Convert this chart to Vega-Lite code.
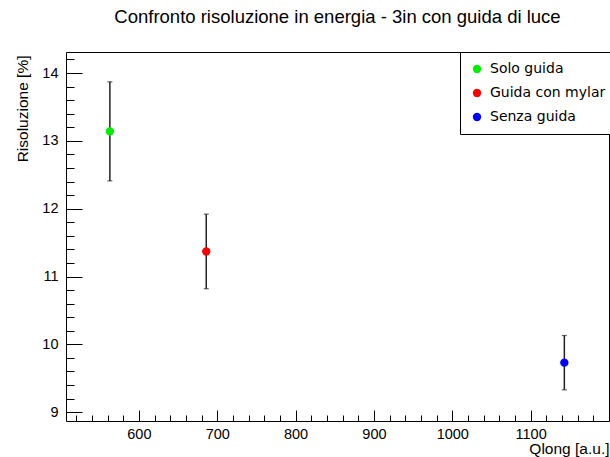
{
  "$schema": "https://vega.github.io/schema/vega-lite/v6.json",
  "width": 543,
  "height": 369,
  "autosize": {"type": "none"},
  "padding": {"left": 66, "top": 52, "right": 1, "bottom": 36},
  "background": "white",
  "title": {
    "text": "Confronto risoluzione in energia - 3in con guida di luce",
    "font": "Liberation Sans",
    "fontSize": 18.5,
    "fontWeight": "normal",
    "color": "black",
    "anchor": "middle",
    "offset": 25
  },
  "config": {
    "view": {"stroke": "black", "strokeWidth": 1},
    "axis": {
      "labelFont": "Liberation Sans",
      "labelFontSize": 14.5,
      "labelColor": "black",
      "titleFont": "Liberation Sans",
      "titleFontSize": 15.5,
      "titleFontWeight": "normal",
      "titleColor": "black",
      "tickColor": "black",
      "grid": false,
      "domain": false
    }
  },
  "data": {
    "values": [
      {"name": "Solo guida", "q": 563, "r": 13.14, "lo": 12.41, "hi": 13.87},
      {"name": "Guida con mylar", "q": 686, "r": 11.37, "lo": 10.82, "hi": 11.92},
      {"name": "Senza guida", "q": 1143, "r": 9.73, "lo": 9.33, "hi": 10.13}
    ]
  },
  "encoding": {
    "x": {
      "field": "q",
      "type": "quantitative",
      "scale": {"domain": [507, 1200], "nice": false, "zero": false},
      "axis": {
        "title": "Qlong [a.u.]",
        "titleAnchor": "end",
        "titleBaseline": "alphabetic",
        "titleY": 32.5,
        "values": [520,540,560,580,600,620,640,660,680,700,720,740,760,780,800,820,840,860,880,900,920,940,960,980,1000,1020,1040,1060,1080,1100,1120,1140,1160,1180],
        "labelExpr": "datum.value % 100 === 0 ? format(datum.value, 'd') : ''",
        "tickSize": {"condition": {"test": "datum.value % 100 === 0", "value": -11}, "value": -6},
        "labelPadding": 17,
        "labelFlush": false,
        "labelOverlap": false
      }
    },
    "y": {
      "type": "quantitative",
      "scale": {"domain": [8.87, 14.31], "nice": false, "zero": false},
      "axis": {
        "title": "Risoluzione [%]",
        "titleAngle": -90,
        "titleAlign": "right",
        "titleBaseline": "alphabetic",
        "titleX": -39,
        "titleY": 3,
        "values": [9,9.2,9.4,9.6,9.8,10,10.2,10.4,10.6,10.8,11,11.2,11.4,11.6,11.8,12,12.2,12.4,12.6,12.8,13,13.2,13.4,13.6,13.8,14,14.2],
        "labelExpr": "abs(datum.value - round(datum.value)) < 0.001 ? format(datum.value, 'd') : ''",
        "tickSize": {"condition": {"test": "abs(datum.value - round(datum.value)) < 0.001", "value": -16}, "value": -8},
        "labelPadding": 24,
        "labelFlush": false,
        "labelOverlap": false
      }
    }
  },
  "layer": [
    {
      "mark": {"type": "rule", "color": "#222222", "strokeWidth": 1.5},
      "encoding": {
        "y": {"field": "lo"},
        "y2": {"field": "hi"}
      }
    },
    {
      "mark": {"type": "tick", "orient": "horizontal", "color": "#222222", "size": 5, "thickness": 1.2},
      "encoding": {
        "y": {"field": "lo"}
      }
    },
    {
      "mark": {"type": "tick", "orient": "horizontal", "color": "#222222", "size": 5, "thickness": 1.2},
      "encoding": {
        "y": {"field": "hi"}
      }
    },
    {
      "mark": {"type": "circle", "size": 70, "opacity": 1},
      "encoding": {
        "y": {"field": "r"},
        "color": {
          "field": "name",
          "type": "nominal",
          "scale": {"domain": ["Solo guida", "Guida con mylar", "Senza guida"], "range": ["#00ee00", "#ff0000", "#0000ff"]},
          "legend": {
            "title": null,
            "orient": "none",
            "legendX": 394,
            "legendY": 0,
            "padding": 10,
            "strokeColor": "black",
            "fillColor": "white",
            "symbolType": "circle",
            "symbolSize": 70,
            "labelFont": "DejaVu Sans",
            "labelFontSize": 14,
            "labelColor": "black",
            "labelOffset": 6,
            "rowPadding": 10,
            "labelLimit": 200
          }
        }
      }
    }
  ]
}
